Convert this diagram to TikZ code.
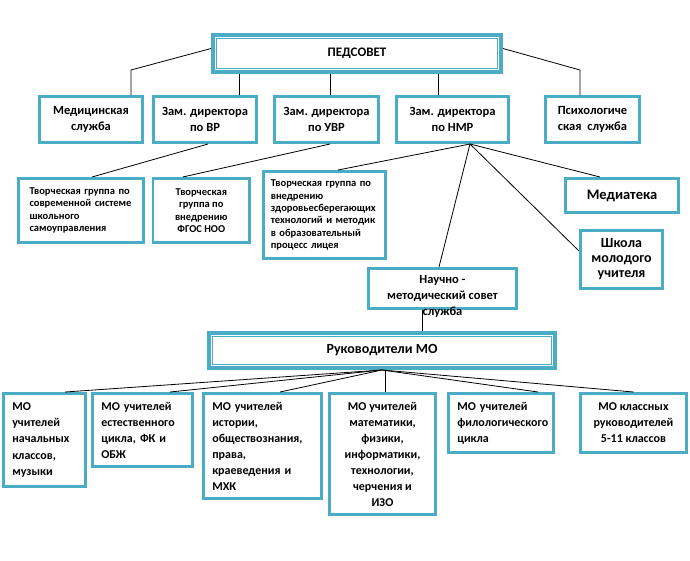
\documentclass[tikz,border=0pt]{standalone}
\usepackage{fontspec}
\setmainfont{Carlito}
\usepackage{xcolor}
\usepackage{tikz}
\usetikzlibrary{positioning}

\definecolor{frame}{HTML}{4BACC6}
\newcommand{\boxfont}{\bfseries\fontsize{12.5}{16}\selectfont}
\newcommand{\mofont}{\bfseries\fontsize{12}{16}\selectfont}
\newcommand{\groupfont}{\bfseries\fontsize{10.5}{12.3}\selectfont}
\newcommand{\topfont}{\bfseries\fontsize{13}{15}\selectfont}

\tikzset{
    unit/.style={draw=frame, line width=2.6pt, fill=white, inner sep=3pt, align=center, font=\boxfont},
    head/.style={unit, line width=4pt, font=\topfont},
    deputy/.style={unit, minimum height=46.4pt},
    group/.style={unit, font=\groupfont},
    mo/.style={unit, inner xsep=9pt, font=\mofont},
    link/.style={line width=0.8pt},
}

\begin{document}
\begin{tikzpicture}[x=1pt, y=-1pt]
    \useasboundingbox (0,0) rectangle (690,560);

    \node[head, minimum width=288pt, minimum height=37pt] (ped) at (357,53.5) {ПЕДСОВЕТ};

    \node[deputy, minimum width=103.4pt] (med) at (91,119.5) {Медицинская\\служба};
    \node[deputy, minimum width=103.4pt, right=8pt of med] (vr) {Зам. директора\\по ВР};
    \node[deputy, minimum width=104.4pt, right=15pt of vr] (uvr) {Зам. директора\\по УВР};
    \node[deputy, minimum width=112.4pt, right=15pt of uvr] (nmr) {Зам. директора\\по НМР};
    \node[deputy, minimum width=94.4pt, right=34pt of nmr] (psy) {Психологиче\\ская\ \ служба};

    \node[group, inner xsep=11pt, text width=103pt, align=left, minimum height=64.4pt] (grpA) at (81,210.5)
        {Творческая группа по\\современной системе\\школьного\\самоуправления};
    \node[group, minimum width=96.4pt, minimum height=64.4pt, right=7pt of grpA] (grpB)
        {Творческая\\группа по\\внедрению\\ФГОС НОО};
    \node[group, inner xsep=7.5pt, text width=107.4pt, align=left, minimum height=87.4pt] (grpC) at (324.5,215)
        {Творческая группа по\\внедрению\\здоровьесберегающих\\технологий и методик\\в образовательный\\процесс лицея};
    \node[unit, font=\bfseries\fontsize{14.5}{16}\selectfont, minimum width=113.4pt, minimum height=34.4pt] (media) at (622,195.5) {Медиатека};
    \node[unit, font=\bfseries\fontsize{14}{15}\selectfont, minimum width=82.4pt, minimum height=58.4pt] (school) at (621.5,259.5)
        {Школа\\молодого\\учителя};
    \node[unit, minimum width=148.4pt, minimum height=40.4pt,
        label={[font=\boxfont, align=center, yshift=-8pt]center:Научно -\\методический совет\\служба}] (council) at (442.5,288.5) {};

    \node[head, font=\bfseries\fontsize{14}{15}\selectfont, minimum width=346pt, minimum height=35pt] (ruk) at (382,350.5) {Руководители МО};

    % inner frame lines of the two main boxes
    \foreach \h in {ped, ruk}
        \draw[frame, line width=0.8pt] ([shift={(5.7pt,-5.7pt)}]\h.north west) rectangle ([shift={(-5.7pt,5.7pt)}]\h.south east);

    \node[mo, anchor=north, text width=64.4pt, align=left, minimum height=93.4pt] (mo1) at (44.5,392)
        {МО\\учителей\\начальных\\классов,\\музыки};
    \node[mo, text width=82.4pt, align=left, minimum height=73.4pt, right=4pt of mo1.north east, anchor=north west] (mo2)
        {МО учителей\\естественного\\цикла, ФК и\\ОБЖ};
    \node[mo, text width=100.4pt, align=left, minimum height=105.4pt, right=8pt of mo2.north east, anchor=north west] (mo3)
        {МО учителей\\истории,\\обществознания,\\права,\\краеведения и\\МХК};
    \node[mo, minimum width=106.4pt, minimum height=121.4pt, right=5pt of mo3.north east, anchor=north west] (mo4)
        {МО учителей\\математики,\\физики,\\информатики,\\технологии,\\черчения и\\ИЗО};
    \node[mo, text width=87.4pt, align=left, minimum height=59.4pt, right=10pt of mo4.north east, anchor=north west] (mo5)
        {МО учителей\\филологического\\цикла};
    \node[mo, minimum width=106.4pt, minimum height=59.4pt, right=24pt of mo5.north east, anchor=north west] (mo6)
        {МО классных\\руководителей\\5-11 классов};

    % connectors
    \draw[link] ([yshift=5pt]ped.west) -- ([xshift=40pt, yshift=25pt]med.north) -- ([xshift=40pt]med.north);
    \draw[link] ([xshift=34pt]vr.north) -- ([xshift=34pt]vr.north |- ped.south);
    \draw[link] ([xshift=3.5pt]uvr.north) -- ([xshift=3.5pt]uvr.north |- ped.south);
    \draw[link] ([xshift=-14.5pt]nmr.north) -- ([xshift=-14.5pt]nmr.north |- ped.south);
    \draw[link] ([yshift=5pt]ped.east) -- ([xshift=-12.5pt, yshift=25pt]psy.north) -- ([xshift=-12.5pt]psy.north);

    \draw[link] ([xshift=3pt]vr.south) -- ([xshift=11pt]grpA.north);
    \draw[link] ([xshift=3.5pt]uvr.south) -- ([xshift=-18.5pt]grpB.north);
    \coordinate (hub) at ([xshift=17.5pt]nmr.south);
    \draw[link] (hub) -- ([xshift=13.5pt]grpC.north);
    \draw[link] (hub) -- ([xshift=-22pt]media.north);
    \draw[link] (hub) -- ([yshift=8.5pt]school.west);
    \draw[link] (hub) -- ([xshift=-3.5pt]council.north);
    \draw[link] ([xshift=-20.5pt]council.south) -- ([xshift=-20.5pt]council.south |- ruk.north);

    \foreach \m/\dx in {mo1/20.5, mo2/27.5, mo3/17.5, mo5/37, mo6/0}
        \draw[link] (ruk.south) -- ([xshift=\dx pt]\m.north);
    \draw[link] ([xshift=2.5pt]mo4.north) -- ([xshift=2.5pt]mo4.north |- ruk.south);
\end{tikzpicture}
\end{document}
